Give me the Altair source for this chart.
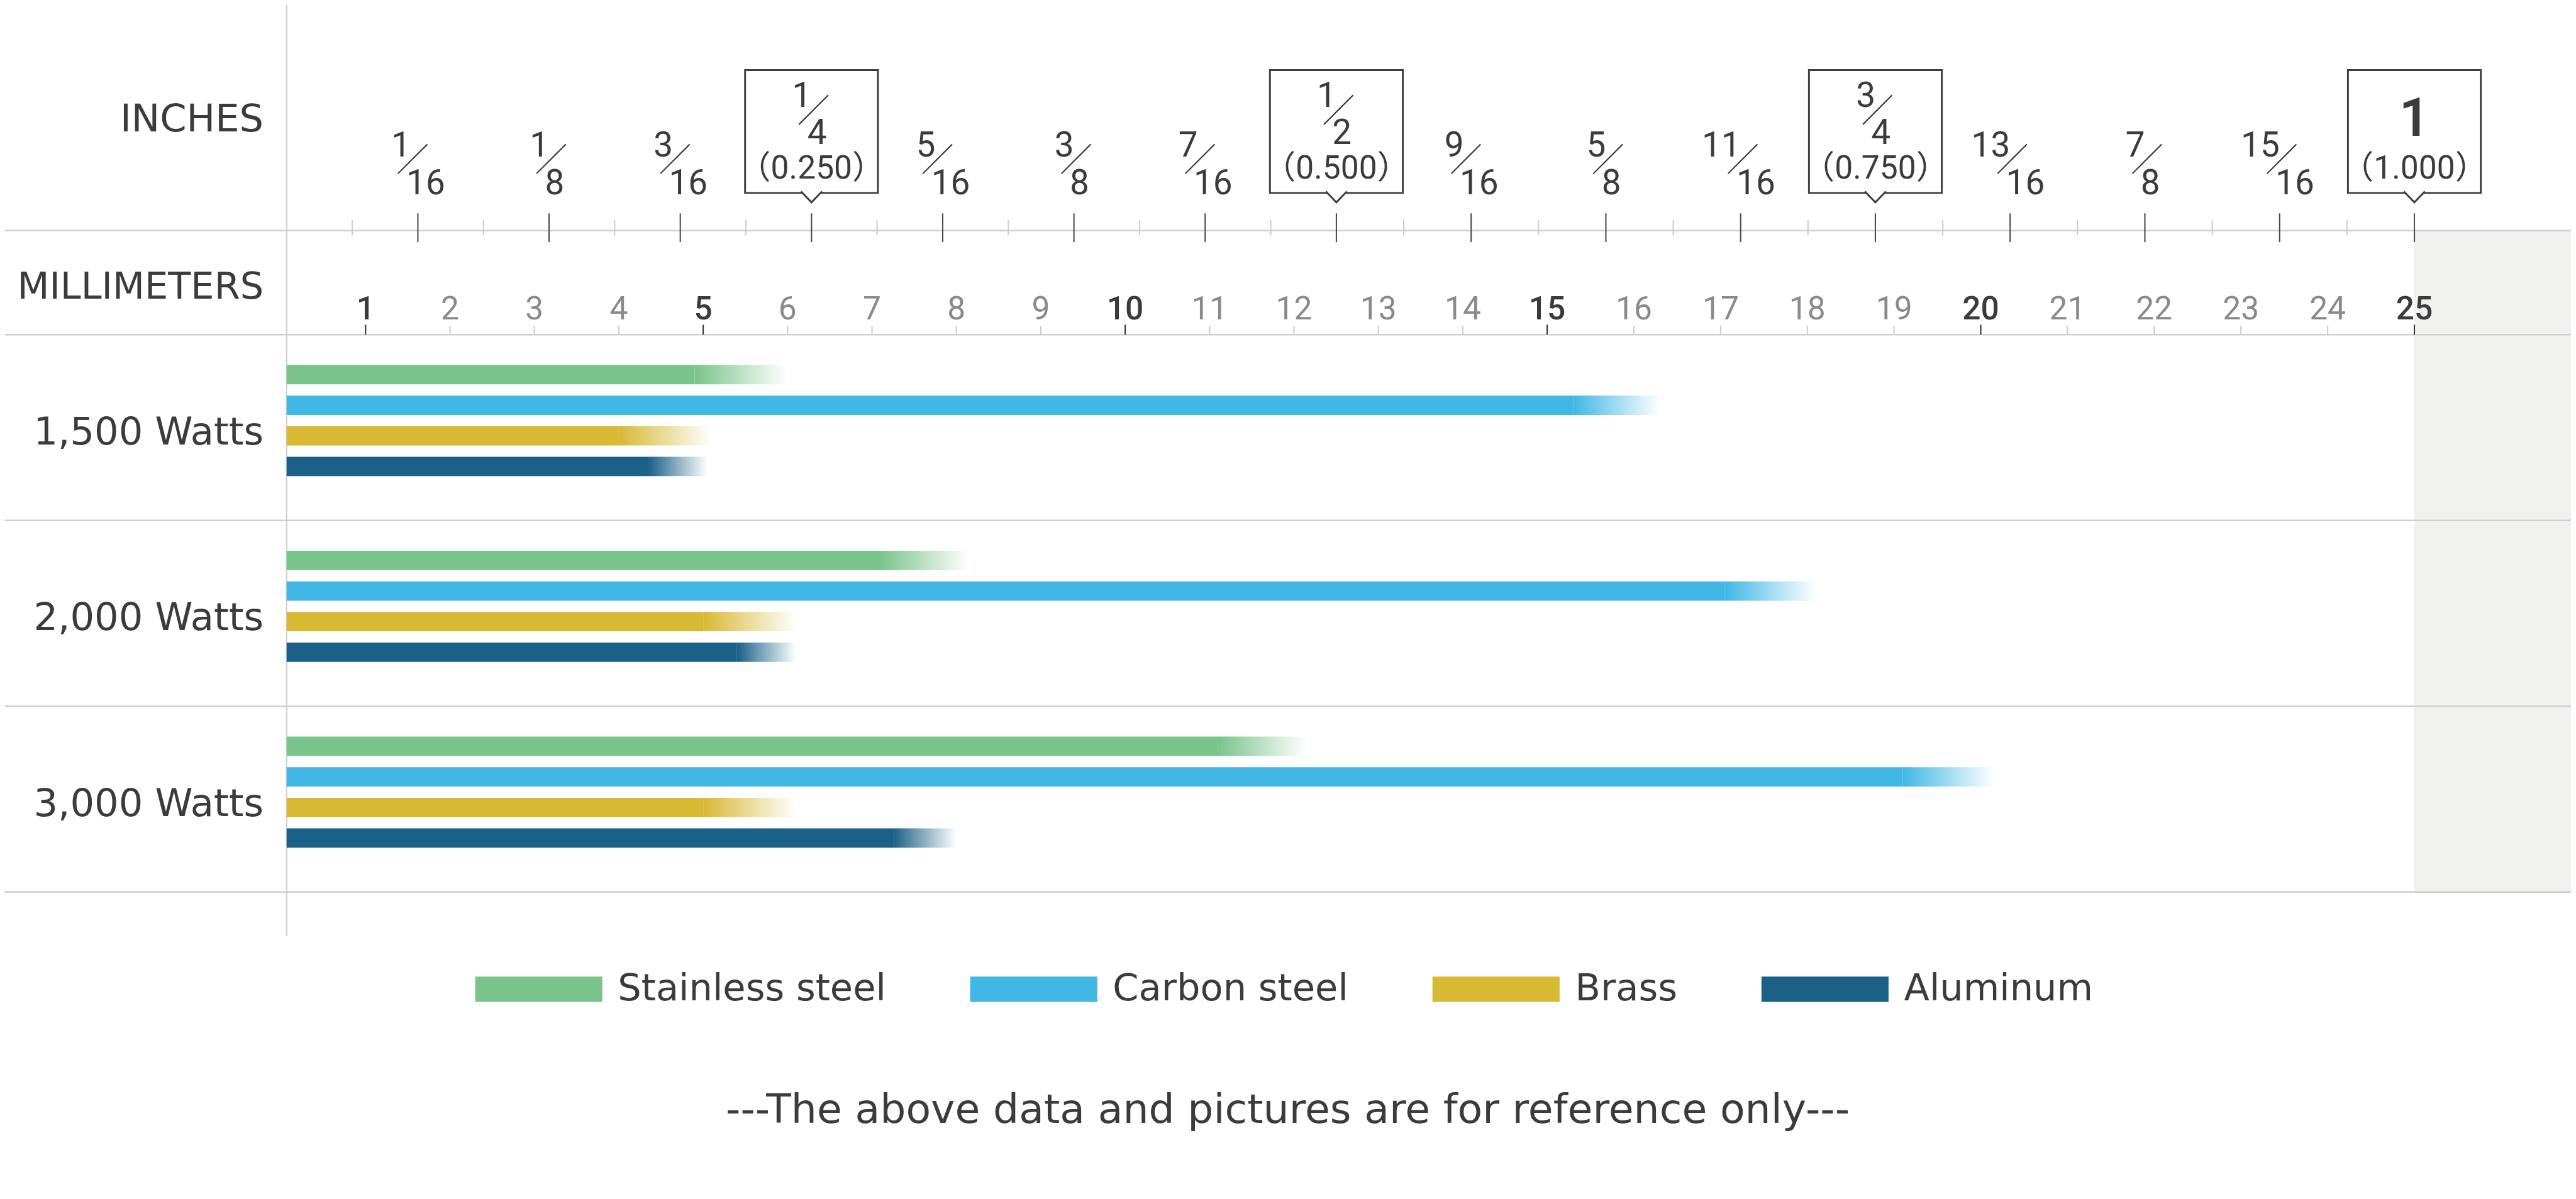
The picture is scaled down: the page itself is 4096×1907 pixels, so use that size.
import altair as alt
import pandas as pd

SC = 4096 / 4925    # reference px -> window px
W, H = 4080, 1891   # canvas (window minus the 8px page margin)


def p(v):            # sizes / relative offsets
    return round(v * SC, 2)


def P(v):            # absolute positions (page margin removed)
    return round(v * SC - 8, 2)


# ---------------- data ----------------
rows = ["1,500 Watts", "2,000 Watts", "3,000 Watts"]
materials = ["Stainless steel", "Carbon steel", "Brass", "Aluminum"]
colors = ["#7AC48B", "#40B7E5", "#D8B934", "#1B6087"]

# cutting thickness in mm: full-colour part, and faded maximum
solid_1500 = [4.9, 15.3, 4.0, 4.35]
max_1500 = [6.0, 16.3, 5.1, 5.05]
solid_2000 = [7.1, 17.05, 5.0, 5.4]
max_2000 = [8.15, 18.1, 6.1, 6.1]
solid_3000 = [11.1, 19.1, 5.0, 7.25]
max_3000 = [12.15, 20.15, 6.1, 8.0]

mm_ticks = list(range(1, 26))
mm_major = [1, 5, 10, 15, 20, 25]

inch_num = ["1", "1", "3", "1", "5", "3", "7", "1", "9", "5", "11", "3", "13", "7", "15", "1"]
inch_den = ["16", "8", "16", "4", "16", "8", "16", "2", "16", "8", "16", "4", "16", "8", "16", "1"]
inch_dec = ["", "", "", "（0.250）", "", "", "", "（0.500）", "", "", "", "（0.750）", "", "", "", "（1.000）"]
ruler_32nds = list(range(1, 33))

header_labels = ["INCHES", "MILLIMETERS"]
footer = "---The above data and pictures are for reference only---"

# ---------------- tables ----------------
recs = []
for r, sol, mx in zip(rows, [solid_1500, solid_2000, solid_3000], [max_1500, max_2000, max_3000]):
    for m, s_, e_ in zip(materials, sol, mx):
        recs.append({"row": r, "material": m, "solid": s_, "max": e_})
bars = pd.DataFrame(recs)
rows_df = pd.DataFrame({"row": rows})
mm_df = pd.DataFrame({"mm": mm_ticks, "major": [m in mm_major for m in mm_ticks]})
frac_df = pd.DataFrame({"num": inch_num, "den": inch_den, "dec": inch_dec})
r32_df = pd.DataFrame({"k": ruler_32nds})

TXT = "#3a3b3b"
GRID = "#cfcfcf"
WORDF = "DejaVu Sans"
NUMF = "Roboto, Noto Sans CJK SC"

# the printed ruler is slightly non-uniform; follow its tick positions
X_MM = alt.Scale(domain=[0, 1, 15, 25], range=[P(548), P(699), P(2958), P(4616)],
                 nice=False, zero=False)
X_IN = alt.Scale(domain=[0, 0.5, 1], range=[P(548), P(2555), P(4616)], nice=False, zero=False)
Y_ROW = alt.Scale(domain=rows, range=[P(640), P(1706)], paddingInner=0, paddingOuter=0)
Y_OFF = alt.Scale(domain=materials, range=[p(58), p(270.5)], paddingInner=0.368, paddingOuter=0)

# ---------------- main (mm) layers ----------------
one = rows_df.head(1)
gray = alt.Chart(one).mark_rect(color="#f0f0ee").encode(
    x=alt.XDatum(25, type="quantitative", scale=X_MM, axis=None),
    x2=alt.value(W),
    y=alt.value(P(441)),
    y2=alt.value(P(1706)),
)

hline_in = alt.Chart(one).mark_rule(color=GRID, strokeWidth=p(3)).encode(
    x=alt.value(0), x2=alt.value(W), y=alt.value(P(441)))

row_lines = alt.Chart(rows_df).mark_rule(color=GRID, strokeWidth=p(3)).encode(
    y=alt.Y("row:N", scale=Y_ROW, axis=None, bandPosition=0),
    x=alt.value(0), x2=alt.value(W))
last_line = alt.Chart(rows_df).transform_filter(alt.datum.row == rows[-1]).mark_rule(
    color=GRID, strokeWidth=p(3)).encode(
    y=alt.Y("row:N", scale=Y_ROW, axis=None, bandPosition=1),
    x=alt.value(0), x2=alt.value(W))

vline = alt.Chart(one).mark_rule(color=GRID, strokeWidth=p(2.5)).encode(
    x=alt.XDatum(0, type="quantitative", scale=X_MM, axis=None),
    y=alt.value(0), y2=alt.value(P(1790)))

mm_minor_ticks = alt.Chart(mm_df).transform_filter("!datum.major").mark_rule(
    color="#cccccc", strokeWidth=p(2.5)).encode(
    x=alt.X("mm:Q", scale=X_MM, axis=None), y=alt.value(P(623)), y2=alt.value(P(640)))
mm_major_ticks = alt.Chart(mm_df).transform_filter("datum.major").mark_rule(
    color="#333333", strokeWidth=p(2.5)).encode(
    x=alt.X("mm:Q", scale=X_MM, axis=None), y=alt.value(P(621)), y2=alt.value(P(640)))

mm_minor_lbl = alt.Chart(mm_df).transform_filter("!datum.major").mark_text(
    font=NUMF, fontSize=p(62), color="#8a8a8a", align="center", baseline="alphabetic").encode(
    x=alt.X("mm:Q", scale=X_MM, axis=None), y=alt.value(P(611)), text="mm:N")
mm_major_lbl = alt.Chart(mm_df).transform_filter("datum.major").mark_text(
    font=NUMF, fontSize=p(62), fontWeight=500, color=TXT, align="center", baseline="alphabetic").encode(
    x=alt.X("mm:Q", scale=X_MM, axis=None), y=alt.value(P(611)), text="mm:N")

row_lbl = alt.Chart(rows_df).mark_text(
    font=WORDF, fontSize=p(73), color=TXT, align="right", baseline="alphabetic", dy=p(32)).encode(
    y=alt.Y("row:N", scale=Y_ROW, axis=None), x=alt.value(P(504)), text="row:N")

head_df = pd.DataFrame({"t": header_labels})
inches_lbl = alt.Chart(head_df).transform_filter(alt.datum.t == header_labels[0]).mark_text(
    font=WORDF, fontSize=p(73), color=TXT, align="right", baseline="alphabetic").encode(
    x=alt.value(P(504)), y=alt.value(P(251)), text="t:N")
mm_lbl = alt.Chart(head_df).transform_filter(alt.datum.t == header_labels[1]).mark_text(
    font=WORDF, fontSize=p(71), color=TXT, align="right", baseline="alphabetic").encode(
    x=alt.value(P(504)), y=alt.value(P(571)), text="t:N")

YE = alt.Y("row:N", scale=Y_ROW, axis=None, sort=rows)
YO = alt.YOffset("material:N", scale=Y_OFF, sort=materials)

solid_bars = alt.Chart(bars).mark_bar().encode(
    x=alt.X("solid:Q", scale=X_MM, axis=None, stack=None),
    y=YE, yOffset=YO,
    color=alt.Color("material:N", scale=alt.Scale(domain=materials, range=colors),
                    legend=alt.Legend(
                        orient="none", direction="horizontal", title=None,
                        legendX=P(908), legendY=P(1891 - 121.5),
                        symbolType="M-1,-0.198L1,-0.198L1,0.198L-1,0.198Z",
                        symbolSize=p(243) ** 2, symbolStrokeWidth=0, symbolOpacity=1,
                        labelFont=WORDF, labelFontSize=p(71), labelColor=TXT,
                        labelOffset=p(29), columnPadding=p(160), labelLimit=2000,
                        padding=0)),
)

fade_layers = []
for m, c in zip(materials, colors):
    grad = alt.Gradient(gradient="linear",
                        stops=[alt.GradientStop(color=c, offset=0),
                               alt.GradientStop(color="#ffffff", offset=1)],
                        x1=0, x2=1, y1=0, y2=0)
    fade_layers.append(
        alt.Chart(bars).transform_filter(alt.datum.material == m).mark_bar(color=grad).encode(
            x=alt.X("solid:Q", scale=X_MM, axis=None, stack=None),
            x2="max:Q", y=YE, yOffset=YO))

foot = alt.Chart(pd.DataFrame({"t": [footer]})).mark_text(
    font=WORDF, fontSize=p(78), color=TXT, align="center", baseline="alphabetic").encode(
    x=alt.value(P(2462)), y=alt.value(P(2147)), text="t:N")

main = alt.layer(gray, hline_in, row_lines, last_line, vline,
                 mm_minor_ticks, mm_major_ticks, mm_minor_lbl, mm_major_lbl,
                 row_lbl, inches_lbl, mm_lbl, solid_bars, *fade_layers, foot)

# ---------------- inch ruler layers ----------------
XI = alt.X("inch:Q", scale=X_IN, axis=None)

r32 = alt.Chart(r32_df).transform_calculate(inch="datum.k / 32", major="datum.k % 2 == 0")
in_minor = r32.transform_filter("!datum.major").mark_rule(color="#cccccc", strokeWidth=p(2.5)).encode(
    x=XI, y=alt.value(P(421)), y2=alt.value(P(450)))
in_major = r32.transform_filter("datum.major").mark_rule(color="#4a4a4a", strokeWidth=p(2.5)).encode(
    x=XI, y=alt.value(P(408)), y2=alt.value(P(463)))

frac = alt.Chart(frac_df).transform_calculate(
    inch="toNumber(datum.num) / toNumber(datum.den)",
    wide="length(datum.den) > length(datum.num)",
    dn="toNumber(datum.den)")

boxed = frac.transform_filter("datum.dn <= 4")
box = boxed.mark_rect(fill="white", stroke="#3d3d3d", strokeWidth=p(3.5),
                      xOffset=-p(127), x2Offset=p(127)).encode(
    x=XI, x2="inch:Q", y=alt.value(P(134)), y2=alt.value(P(369)))
pointer = boxed.mark_point(shape="M-1,-0.14L0,0.9L1,-0.14", size=p(40) ** 2, filled=True,
                           fill="white", stroke="#3d3d3d", strokeWidth=p(3.5),
                           opacity=1, fillOpacity=1).encode(
    x=XI, y=alt.value(P(369)))
dec = boxed.mark_text(font=NUMF, fontSize=p(62), color=TXT, align="center",
                      baseline="alphabetic").encode(
    x=XI, y=alt.value(P(342)), text="dec:N")
whole = frac.transform_filter("datum.dn == 1").mark_text(
    font=NUMF, fontSize=p(102), fontWeight=600, color=TXT, align="center",
    baseline="alphabetic").encode(x=XI, y=alt.value(P(260)), text="num:N")


def fraction_layers(filt, xp, y_num, y_den, y_sb, y_st):
    b = frac.transform_filter(filt)
    num = b.mark_text(font=NUMF, fontSize=p(66), color=TXT, align="right",
                      baseline="alphabetic", dx=p(xp - 4)).encode(
        x=XI, y=alt.value(P(y_num)), text="num:N")
    den = b.mark_text(font=NUMF, fontSize=p(66), color=TXT, align="left",
                      baseline="alphabetic", dx=p(xp - 12)).encode(
        x=XI, y=alt.value(P(y_den)), text="den:N")
    sl = b.mark_rule(color="#333333", strokeWidth=p(2.5),
                     xOffset=p(xp - 28), x2Offset=p(xp + 28)).encode(
        x=XI, x2="inch:Q", y=alt.value(P(y_sb)), y2=alt.value(P(y_st)))
    return [num, den, sl]


fr = []
fr += fraction_layers("datum.dn >= 8 && datum.wide", -10, 299, 372, 332, 276)
fr += fraction_layers("datum.dn >= 8 && !datum.wide", 4, 299, 372, 332, 276)
fr += fraction_layers("datum.dn > 1 && datum.dn <= 4", 4, 205, 275, 238, 182)

inch_group = alt.layer(in_minor, in_major, box, pointer, dec, whole, *fr)

chart = alt.layer(main, inch_group).resolve_scale(x="independent").properties(
    width=W, height=H, padding=0, autosize=alt.AutoSizeParams(type="none"),
    background="white",
).configure_view(stroke=None)

chart.save("out.html", embed_options={"renderer": "svg", "actions": False})
